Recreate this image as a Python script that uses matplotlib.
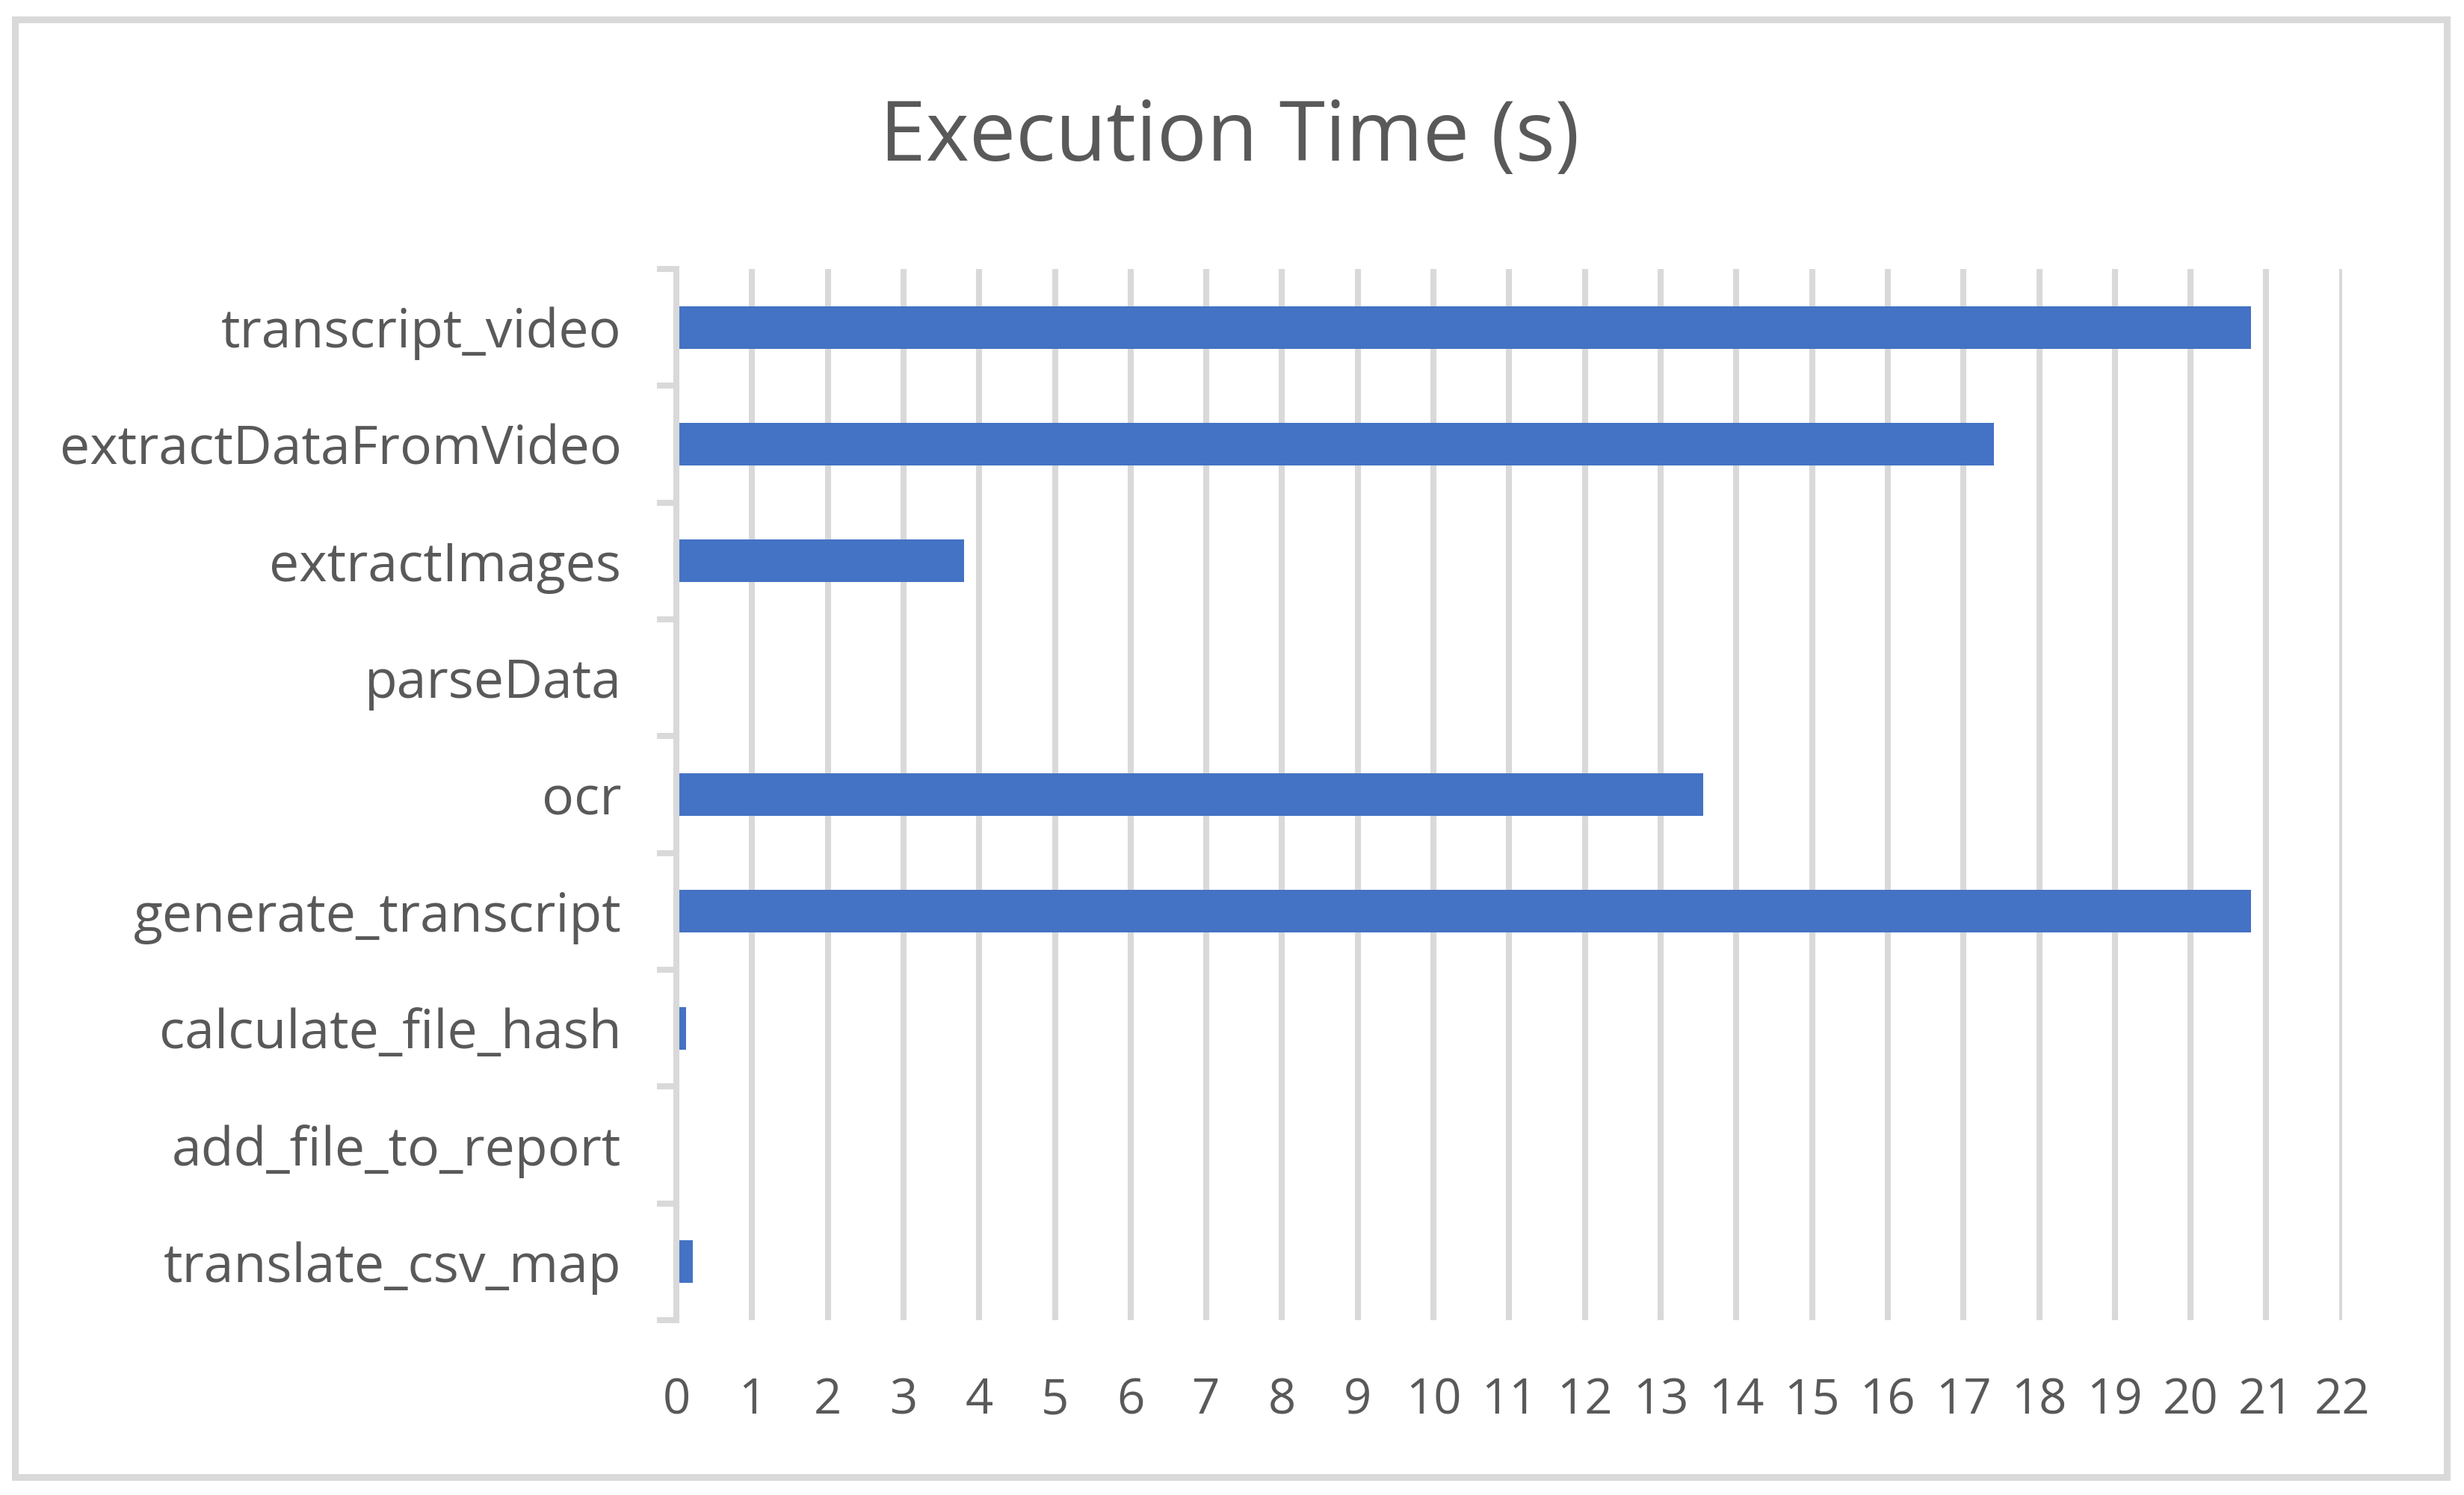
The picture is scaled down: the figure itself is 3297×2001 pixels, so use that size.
import matplotlib
matplotlib.use("Agg")
import matplotlib.pyplot as plt
from matplotlib.patches import Rectangle
from matplotlib.ticker import FixedLocator

categories = ["transcript_video", "extractDataFromVideo", "extractImages", "parseData",
              "ocr", "generate_transcript", "calculate_file_hash", "add_file_to_report",
              "translate_csv_map"]
exec_time = [20.8, 17.4, 3.8, 0.0, 13.56, 20.8, 0.13, 0.0, 0.22]
x_ticks = list(range(0, 23))

title = "Execution Time (s)"
bar_color = "#4472C4"
grid_color = "#D9D9D9"
text_color = "#595959"

plt.rcParams['font.family'] = ['Open Sans', 'DejaVu Sans']

DPI = 100
fig = plt.figure(figsize=(32.97, 20.01), dpi=DPI)
fig.patch.set_facecolor("white")

# outer chart border
fig.patches.append(Rectangle((0.006, 0.012), 0.987, 0.975, transform=fig.transFigure,
                             fill=False, edgecolor=grid_color, linewidth=6.5, zorder=0))

ax = fig.add_axes([0.2745, 0.1169, 0.9505 - 0.2745, 0.8201 - 0.1169])
y = list(range(len(categories)))
ax.barh(y, exec_time, height=0.365, color=bar_color, zorder=3)

ax.set_xlim(0, 22)
ax.set_ylim(len(categories) - 0.5, -0.5)
ax.set_xticks(x_ticks)
ax.set_xticklabels([str(t) for t in x_ticks])
ax.set_yticks(y)
ax.set_yticklabels(categories)

ax.yaxis.set_minor_locator(FixedLocator([i - 0.5 for i in range(len(categories) + 1)]))
ax.tick_params(axis='y', which='major', length=0, pad=53, labelsize=51.5, labelcolor=text_color)
ax.tick_params(axis='y', which='minor', length=18.7, width=5.8, color=grid_color, direction='out')
ax.tick_params(axis='x', which='major', length=0, pad=54, labelsize=47, labelcolor=text_color)

ax.grid(axis='x', color=grid_color, linewidth=5.8, zorder=0)
ax.set_axisbelow(True)
for s in ['top', 'right', 'bottom']:
    ax.spines[s].set_visible(False)
ax.spines['left'].set_color(grid_color)
ax.spines['left'].set_linewidth(5.8)
ax.spines['left'].set_zorder(4)

fig.text(0.499, 0.907, title, ha='center', va='center', fontsize=80, color=text_color)

fig.savefig("out.png", dpi=DPI, facecolor="white")
